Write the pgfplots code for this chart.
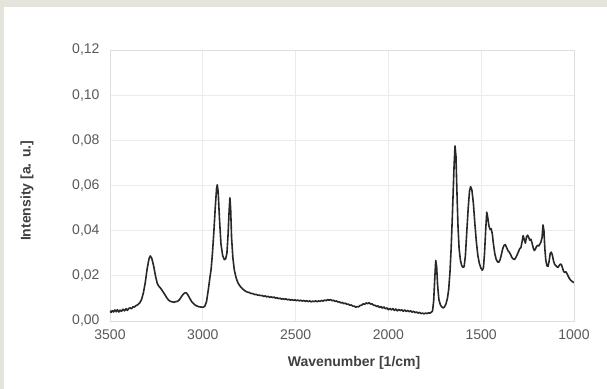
\documentclass[border=0pt]{standalone}
\usepackage{pgfplots}
\pgfplotsset{compat=1.18}
\usepackage{fontspec}
\setmainfont{Liberation Sans}
\definecolor{bgbeige}{RGB}{228,227,220}
\definecolor{tickgray}{RGB}{89,89,89}
\definecolor{labgray}{RGB}{64,64,64}
\definecolor{gridc}{RGB}{235,235,235}
\definecolor{framec}{RGB}{222,222,222}
\definecolor{linec}{RGB}{40,40,40}
\begin{document}
\begin{tikzpicture}
\fill[bgbeige] (0,0) rectangle (607bp,389bp);
\fill[white] (4bp,0) rectangle (607bp,382bp);
\begin{axis}[
  at={(110bp,68bp)}, anchor=south west,
  scale only axis, width=464bp, height=271bp,
  x dir=reverse, xmin=1000, xmax=3500, ymin=0, ymax=0.12,
  xtick={1000,1500,...,3500}, ytick={0,0.02,...,0.12},
  scaled y ticks=false,
  grid=major, major grid style={draw=gridc, line width=0.8bp},
  axis line style={draw=framec, line width=0.8bp},
  major tick length=0pt,
  tick label style={font=\fontsize{14bp}{16bp}\selectfont, text=tickgray},
  /pgf/number format/assume math mode=true,
  xticklabel style={/pgf/number format/1000 sep={}, yshift=-5bp},
  yticklabel style={/pgf/number format/.cd, use comma, fixed, fixed zerofill, precision=2, /tikz/xshift=-7bp},
  xlabel={Wavenumber [1/cm]}, ylabel={Intensity [a. u.]},
  label style={font=\bfseries\fontsize{14bp}{16bp}\selectfont, text=labgray},
  xlabel style={at={(axis description cs:0.526,-0.155)}, anchor=center},
  ylabel style={at={(axis description cs:-0.179,0.48)}, anchor=center},
]
\addplot[linec, line width=1.6bp, line join=round] table {
3500 0.0045
3494 0.0038
3488 0.0046
3480 0.0040
3474 0.0049
3466 0.0041
3460 0.0050
3452 0.0040
3446 0.0048
3438 0.0043
3430 0.0052
3422 0.0045
3414 0.0054
3406 0.0047
3400 0.0055
3392 0.0058
3384 0.0054
3376 0.0063
3368 0.0062
3360 0.0068
3350 0.0072
3340 0.0080
3330 0.0095
3320 0.0125
3310 0.0170
3300 0.0230
3290 0.0275
3283 0.0288
3275 0.0278
3265 0.0245
3255 0.0200
3245 0.0165
3235 0.0152
3225 0.0143
3215 0.0130
3205 0.0118
3195 0.0104
3185 0.0093
3175 0.0087
3165 0.0085
3155 0.0083
3145 0.0086
3135 0.0087
3125 0.0095
3115 0.0108
3105 0.0119
3095 0.0125
3088 0.0124
3080 0.0115
3070 0.0100
3060 0.0086
3050 0.0077
3040 0.0070
3030 0.0066
3020 0.0063
3010 0.0062
3000 0.0061
2990 0.0064
2980 0.0085
2970 0.0140
2962 0.0190
2955 0.0230
2948 0.0300
2940 0.0400
2933 0.0500
2926 0.0585
2922 0.0603
2917 0.0570
2910 0.0450
2902 0.0340
2893 0.0290
2884 0.0272
2877 0.0275
2870 0.0300
2864 0.0380
2858 0.0490
2854 0.0545
2850 0.0500
2845 0.0370
2838 0.0280
2830 0.0225
2820 0.0190
2810 0.0168
2800 0.0155
2790 0.0146
2780 0.0138
2770 0.0132
2760 0.0128
2750 0.0126
2740 0.0122
2730 0.0121
2720 0.0117
2712 0.0118
2704 0.0114
2696 0.0115
2688 0.0112
2680 0.0113
2672 0.0109
2664 0.0111
2656 0.0107
2648 0.0109
2640 0.0105
2632 0.0107
2624 0.0104
2616 0.0106
2608 0.0101
2600 0.0103
2592 0.0099
2584 0.0101
2576 0.0097
2568 0.0099
2560 0.0096
2552 0.0098
2544 0.0094
2536 0.0096
2528 0.0092
2520 0.0095
2512 0.0091
2504 0.0094
2496 0.0090
2488 0.0093
2480 0.0089
2472 0.0092
2464 0.0088
2456 0.0091
2448 0.0087
2440 0.0090
2432 0.0086
2424 0.0089
2416 0.0085
2408 0.0088
2400 0.0086
2392 0.0089
2384 0.0085
2376 0.0089
2368 0.0087
2360 0.0091
2352 0.0088
2344 0.0093
2336 0.0090
2328 0.0095
2320 0.0092
2312 0.0095
2304 0.0090
2296 0.0092
2288 0.0087
2280 0.0089
2272 0.0084
2264 0.0085
2256 0.0080
2248 0.0082
2240 0.0077
2232 0.0079
2224 0.0074
2216 0.0075
2208 0.0070
2200 0.0071
2192 0.0066
2184 0.0066
2176 0.0061
2168 0.0064
2160 0.0063
2152 0.0069
2144 0.0070
2136 0.0076
2128 0.0074
2120 0.0080
2112 0.0077
2104 0.0081
2096 0.0075
2088 0.0076
2080 0.0069
2072 0.0070
2064 0.0064
2056 0.0067
2048 0.0060
2040 0.0064
2032 0.0057
2024 0.0062
2016 0.0054
2008 0.0058
2000 0.0050
1992 0.0056
1984 0.0049
1976 0.0055
1968 0.0047
1960 0.0053
1952 0.0045
1944 0.0051
1936 0.0046
1928 0.0050
1920 0.0043
1912 0.0049
1904 0.0042
1896 0.0047
1888 0.0041
1880 0.0045
1872 0.0039
1864 0.0043
1856 0.0037
1848 0.0040
1840 0.0035
1832 0.0038
1824 0.0033
1816 0.0035
1808 0.0032
1800 0.0035
1792 0.0033
1784 0.0036
1776 0.0035
1768 0.0039
1762 0.0045
1756 0.0090
1750 0.0190
1745 0.0268
1740 0.0240
1735 0.0160
1728 0.0095
1720 0.0072
1712 0.0062
1704 0.0058
1698 0.0062
1690 0.0075
1682 0.0100
1675 0.0140
1668 0.0220
1662 0.0320
1656 0.0450
1651 0.0570
1646 0.0690
1641 0.0775
1636 0.0730
1631 0.0580
1625 0.0420
1619 0.0320
1612 0.0270
1605 0.0245
1598 0.0238
1592 0.0240
1585 0.0290
1578 0.0390
1570 0.0500
1563 0.0575
1557 0.0595
1550 0.0580
1542 0.0520
1534 0.0430
1526 0.0350
1518 0.0290
1510 0.0255
1502 0.0235
1494 0.0225
1488 0.0235
1482 0.0300
1476 0.0400
1470 0.0482
1465 0.0460
1458 0.0420
1452 0.0405
1446 0.0408
1440 0.0385
1434 0.0340
1427 0.0300
1420 0.0275
1412 0.0262
1405 0.0260
1398 0.0272
1391 0.0295
1384 0.0320
1377 0.0335
1370 0.0338
1363 0.0325
1356 0.0312
1349 0.0305
1342 0.0295
1335 0.0282
1328 0.0275
1321 0.0272
1314 0.0280
1307 0.0292
1300 0.0305
1293 0.0320
1286 0.0325
1280 0.0350
1274 0.0378
1268 0.0360
1262 0.0345
1256 0.0372
1250 0.0380
1244 0.0370
1238 0.0358
1232 0.0362
1226 0.0345
1220 0.0325
1214 0.0312
1208 0.0318
1202 0.0330
1196 0.0335
1190 0.0332
1184 0.0340
1178 0.0350
1172 0.0370
1167 0.0425
1162 0.0400
1157 0.0320
1152 0.0270
1146 0.0245
1140 0.0242
1134 0.0265
1128 0.0300
1122 0.0305
1116 0.0290
1110 0.0265
1104 0.0250
1098 0.0245
1092 0.0240
1086 0.0238
1080 0.0245
1074 0.0252
1068 0.0250
1062 0.0235
1056 0.0220
1050 0.0215
1044 0.0218
1038 0.0210
1032 0.0200
1026 0.0190
1020 0.0183
1014 0.0178
1008 0.0174
1000 0.0170
};
\end{axis}
\useasboundingbox (0,0) rectangle (607bp,389bp);
\end{tikzpicture}
\end{document}
